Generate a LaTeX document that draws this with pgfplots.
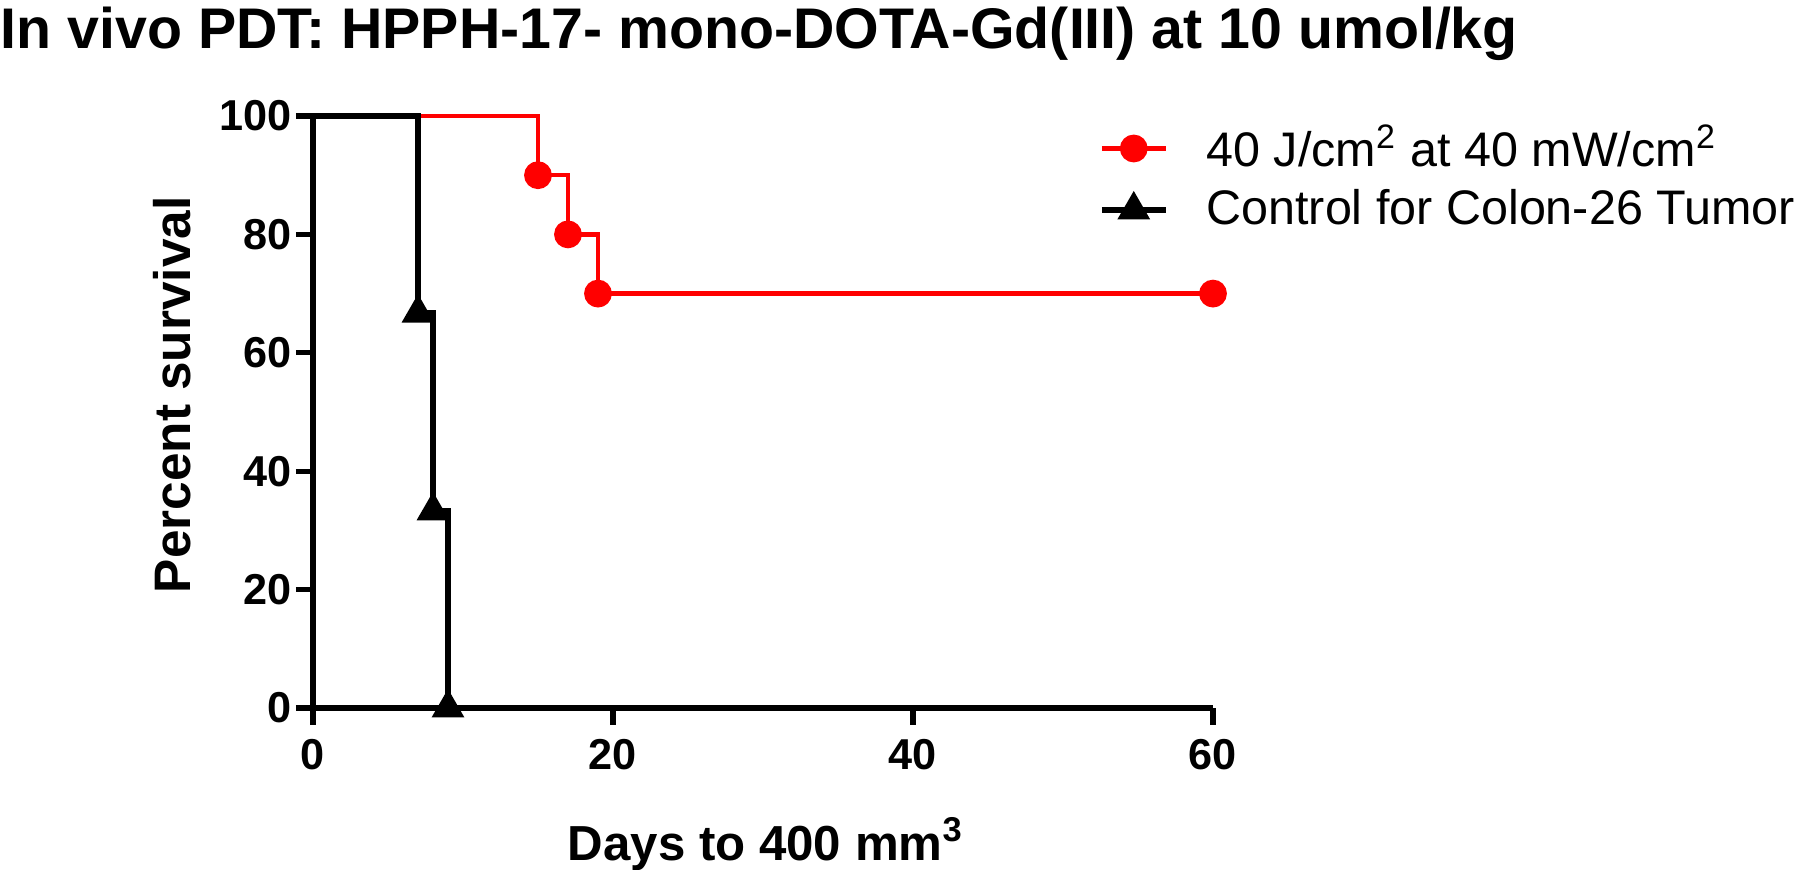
\documentclass[border=0pt]{standalone}
\usepackage{fontspec}
\setmainfont{Liberation Sans}
\usepackage{pgfplots}
\pgfplotsset{compat=1.18}
\begin{document}
\begin{tikzpicture}
\useasboundingbox (0,0) rectangle (18,8.7);
\begin{axis}[
  at={(3.13cm,1.62cm)}, anchor=origin,
  scale only axis, width=9cm, height=5.92cm,
  xmin=0, xmax=60, ymin=0, ymax=100,
  axis lines=left,
  axis line style={line width=1.6pt,-},
  xtick={0,20,40,60}, ytick={0,20,...,100},
  tick align=outside, major tick length=0.17cm,
  every tick/.style={line width=1.5pt,black},
  tick label style={font=\fontsize{12.3}{12.3}\selectfont\bfseries},
  yticklabel style={xshift=0.08cm},
  xticklabel style={yshift=-0.02cm},
  /pgf/number format/assume math mode=true,
  xlabel={Days to 400 mm\textsuperscript{3}},
  ylabel={Percent survival},
  xlabel style={font=\fontsize{14}{14}\selectfont\bfseries, at={(axis description cs:0.503,-0.23)}, anchor=center},
  ylabel style={font=\fontsize{14.6}{14.6}\selectfont\bfseries, at={(axis description cs:-0.156,0.529)}, anchor=center},
  clip=false,
  legend style={at={(rel axis cs:0.861,1.01)}, anchor=north west, draw=none, fill=none,
    font=\fontsize{13.8}{13.8}\selectfont, row sep=1pt,
    /tikz/every odd column/.append style={column sep=0.31cm}},
  legend cell align=left,
  legend image code/.code={\draw[#1, mark indices={2}] plot coordinates {(0cm,0cm)(0.32cm,0cm)(0.64cm,0cm)};},
]
\addplot[red, line width=1.3pt, const plot, mark=*, mark size=3.3pt, mark indices={2,3,4,5}, mark options={solid}]
  coordinates {(0,100)(15,90)(17,80)(19,70)(60,70)};
\addlegendentry{40 J/cm\textsuperscript{2} at 40 mW/cm\textsuperscript{2}}
\addplot[black, line width=1.5pt, const plot, mark=triangle*, mark size=3.9pt, mark indices={2,3,4}, mark options={solid}]
  coordinates {(0,100)(7,66.7)(8,33.3)(9,0)};
\addlegendentry{Control for Colon-26 Tumor}
\end{axis}
\node[anchor=base west, inner sep=0pt, font=\fontsize{16.3}{16.3}\selectfont\bfseries] at (0,8.21) {In vivo PDT: HPPH-17- mono-DOTA-Gd(III) at 10 umol/kg};
\end{tikzpicture}
\end{document}
